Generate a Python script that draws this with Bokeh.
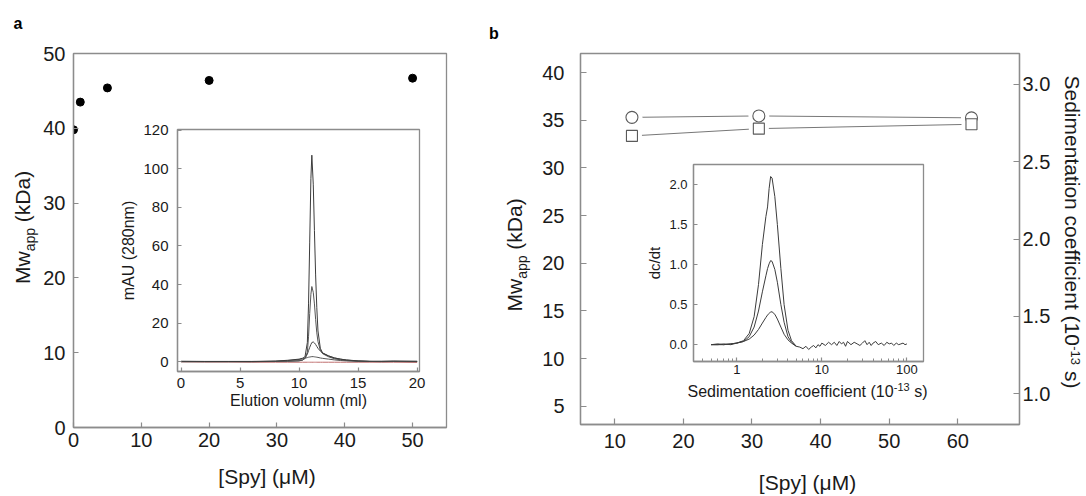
import math
from bokeh.plotting import figure
from bokeh.models import Range1d, LinearAxis, Label, FixedTicker, NumeralTickFormatter
from bokeh.layouts import row, column
from bokeh.embed import file_html
from bokeh.resources import INLINE

# ---------------- data ----------------
spy_a = [0, 1, 5, 20, 50]
mw_a = [39.8, 43.5, 45.4, 46.4, 46.7]

elution_ml = [0.0, 2.0, 4.0, 6.0, 8.0, 9.0, 10.0, 10.3, 10.5, 10.7, 10.8, 10.9, 11.0, 11.08, 11.2,
              11.3, 11.4, 11.5, 11.6, 11.8, 12.0, 12.5, 13.0, 13.5, 14.0, 15.0, 16.0, 17.0, 18.0, 20.0]
mau_107 = [0.3, 0.2, 0.2, 0.2, 0.4, 0.8, 1.4, 1.9, 2.6, 10.0, 30.0, 62.0, 95.0, 107.0, 92.0,
           68.0, 45.0, 28.0, 16.0, 7.0, 4.5, 3.0, 2.0, 1.4, 1.0, 0.5, 0.3, 0.3, 0.4, 0.3]
mau_39 = [0.2, 0.2, 0.2, 0.2, 0.2, 0.3, 0.6, 1.0, 1.8, 5.0, 13.0, 25.0, 35.0, 39.0, 36.0,
          30.0, 22.0, 15.0, 10.5, 6.0, 4.2, 2.6, 1.6, 1.0, 0.7, 0.3, 0.2, 0.2, 0.2, 0.2]
mau_10 = [0.1, 0.1, 0.1, 0.1, 0.2, 0.3, 0.5, 0.9, 1.8, 4.0, 5.8, 7.5, 9.0, 10.0, 10.3,
          9.8, 9.0, 8.0, 7.0, 5.6, 4.6, 3.1, 2.0, 1.4, 0.9, 0.4, 0.2, 0.1, 0.2, 0.1]
mau_3 = [0.1, 0.1, 0.1, 0.1, 0.3, 0.6, 1.2, 1.6, 1.9, 2.2, 2.4, 2.5, 2.6, 2.7, 2.7,
         2.6, 2.5, 2.4, 2.3, 2.0, 1.8, 1.4, 1.0, 0.7, 0.5, 0.3, 0.2, 0.2, 0.3, 0.2]
mau_blank = [0.0, -0.1, -0.1, -0.2, -0.2, -0.2, -0.2, -0.2, -0.2, -0.2, -0.2, -0.2, -0.2, -0.2, -0.2,
             -0.2, -0.2, -0.2, -0.2, -0.2, -0.2, -0.2, -0.2, -0.2, -0.2, -0.2, -0.2, -0.2, -0.2, -0.3]

spy_b = [12.5, 31, 62]
mw_b = [35.3, 35.45, 35.25]
sed_b = [2.667, 2.714, 2.742]

s_peak = [0.5, 0.6, 0.7, 0.85, 1.0, 1.2, 1.4, 1.6, 1.8, 2.0, 2.2, 2.3, 2.4, 2.5, 2.6,
          2.8, 3.0, 3.3, 3.6, 4.0, 4.4, 5.0]
dcdt_high = [0.0, 0.01, 0.0, 0.01, 0.02, 0.05, 0.14, 0.35, 0.75, 1.25, 1.6, 1.72, 1.95, 2.1, 2.08,
             1.85, 1.5, 0.95, 0.5, 0.18, 0.05, -0.02]
dcdt_mid = [0.0, 0.0, 0.01, 0.0, 0.02, 0.04, 0.1, 0.22, 0.42, 0.66, 0.86, 0.95, 1.01, 1.05, 1.04,
            0.94, 0.78, 0.5, 0.28, 0.1, 0.03, -0.02]
dcdt_low = [0.0, 0.0, 0.0, 0.01, 0.02, 0.04, 0.07, 0.12, 0.19, 0.27, 0.34, 0.37, 0.39, 0.41, 0.41,
            0.38, 0.32, 0.22, 0.13, 0.06, 0.02, -0.02]
s_tail = [5.0, 5.5, 6.0, 6.5, 7.0, 7.5, 8.0, 8.5, 9.0, 9.5, 10, 11, 12, 13, 14, 15, 16, 17, 18, 19,
          20, 22, 24, 26, 28, 30, 32, 34, 36, 38, 40, 43, 46, 50, 54, 58, 62, 66, 70, 75, 80, 85, 90, 95, 100]
dcdt_tail = [-0.02, -0.03, -0.05, -0.02, -0.06, -0.03, -0.01, -0.04, 0.0, -0.02, 0.02, -0.01, 0.03, 0.0, 0.03,
             -0.01, 0.04, 0.01, 0.03, -0.02, 0.04, 0.0, 0.03, 0.01, -0.01, 0.02, 0.05, 0.0, 0.03, -0.01,
             0.02, 0.04, 0.0, 0.02, -0.01, 0.03, 0.01, 0.02, -0.01, 0.02, 0.0, 0.01, 0.02, 0.0, 0.01]

a_ticks = [0, 10, 20, 30, 40, 50]
ia_x_ticks = [0, 5, 10, 15, 20]
ia_y_ticks = [0, 20, 40, 60, 80, 100, 120]
b_x_ticks = [10, 20, 30, 40, 50, 60]
b_y_ticks = [5, 10, 15, 20, 25, 30, 35, 40]
b_s_ticks = [1.0, 1.5, 2.0, 2.5, 3.0]
ib_x_ticks = [1, 10, 100]
ib_y_ticks = [0.0, 0.5, 1.0, 1.5, 2.0]

# ---------------- styling helpers ----------------
FONT = "Liberation Sans"
GRAY = "#8c8c8c"
TXT = "#1a1a1a"
LINE = "#3c3c3c"
PAGE_W, PAGE_H = 1086, 496
A_W, B_W = 478, 608

W = {' ': 278, '(': 333, ')': 333, '[': 278, ']': 278, '-': 333, '/': 278, '.': 278,
     'a': 556, 'c': 500, 'd': 556, 'e': 556, 'f': 278, 'i': 222, 'k': 500, 'l': 222, 'm': 833,
     'n': 556, 'o': 556, 'p': 556, 's': 500, 't': 278, 'u': 556, 'v': 500, 'w': 722, 'y': 500,
     'A': 667, 'D': 722, 'E': 667, 'M': 833, 'S': 667, 'U': 722}


def text_w(t, size):
    return sum(W.get(ch, 556) for ch in t) * size / 1000.0


def make_fig(width, height, xr, yr, lft, top, rgt, bot, x_axis_type="linear"):
    p = figure(width=width, height=height, x_range=xr, y_range=yr, x_axis_type=x_axis_type,
               output_backend="svg", toolbar_location=None,
               min_border_left=lft, min_border_top=top, min_border_right=rgt, min_border_bottom=bot)
    p.xgrid.grid_line_color = None
    p.ygrid.grid_line_color = None
    p.outline_line_color = GRAY
    p.outline_line_width = 1.3
    return p


def inset_fig(col_x, col_w, frame, xr, yr, bot, x_axis_type="linear"):
    # inset spans the full column width; its frame is placed with the borders
    fl, ft, fr, fb = frame
    top_pad = 14
    height = (fb - ft) + top_pad + bot
    p = make_fig(col_w, height, xr, yr, fl - col_x, top_pad, col_w - (fr - col_x), bot, x_axis_type)
    p.border_fill_alpha = 0
    y0 = ft - top_pad
    wrap = row(p)  # own container, so the column does not align it with the main plot
    wrap.margin = (y0 - PAGE_H, 0, PAGE_H - y0 - height, 0)
    return p, wrap


def style_axis(ax, size, standoff, tick_in):
    ax.major_label_text_font = FONT
    ax.major_label_text_font_size = f"{size}px"
    ax.major_label_text_color = TXT
    ax.major_label_standoff = standoff
    ax.major_tick_in = tick_in
    ax.major_tick_out = 0
    ax.minor_tick_line_color = None
    ax.axis_line_color = GRAY
    ax.axis_line_width = 1.3
    ax.major_tick_line_color = GRAY
    ax.major_tick_line_width = 1.2
    ax.axis_label_text_font = FONT
    ax.axis_label_text_font_style = "normal"
    ax.axis_label_text_color = TXT


# overlay figure for free texts: its data coordinates equal page pixels
ov = figure(width=PAGE_W, height=PAGE_H, x_range=Range1d(0, PAGE_W), y_range=Range1d(PAGE_H, 0),
            output_backend="svg", toolbar_location=None, x_axis_location=None, y_axis_location=None,
            min_border=0, min_border_left=0, min_border_right=0, min_border_top=0, min_border_bottom=0)
ov.grid.visible = False
ov.outline_line_color = None
ov.background_fill_alpha = 0
ov.border_fill_alpha = 0

BASE_FIX = 0.33  # Bokeh draws "alphabetic" labels about a third of the size below the anchor


def up_vec(angle):
    if angle == 0:
        return (0, -1)
    return (-1, 0) if angle > 0 else (1, 0)


def add_label(sx, sy, text, size, angle=0.0, align="left", bold=False, color=TXT):
    ux, uy = up_vec(angle)
    sx += ux * BASE_FIX * size
    sy += uy * BASE_FIX * size
    ov.add_layout(Label(x=sx, y=sy, text=text, text_font=FONT, text_font_size=f"{size}px",
                        text_align=align, text_baseline="alphabetic", angle=angle,
                        text_font_style="bold" if bold else "normal", text_color=color))


def rich_label(sx, sy, pieces, angle):
    if angle == 0:
        adv = (1, 0)
    elif angle > 0:
        adv = (0, -1)
    else:
        adv = (0, 1)
    up = up_vec(angle)
    pos = 0.0
    for t, size, shift in pieces:
        stripped = t.lstrip(' ')
        pos += text_w(t[:len(t) - len(stripped)], size)
        x = sx + adv[0] * pos + up[0] * shift
        y = sy + adv[1] * pos + up[1] * shift
        add_label(x, y, stripped, size, angle=angle)
        pos += text_w(stripped, size)


# ---------------- panel a: main ----------------
pa = make_fig(A_W, PAGE_H, Range1d(0, 55), Range1d(0, 50), 73, 53, 32, 69)
pa.xaxis.ticker = FixedTicker(ticks=a_ticks)
pa.yaxis.ticker = FixedTicker(ticks=a_ticks)
style_axis(pa.xaxis[0], 20, 5, 5)
style_axis(pa.yaxis[0], 20, 8, 5)
pa.scatter(spy_a, mw_a, size=8, marker="circle", fill_color="black", line_color="black")

# ---------------- panel a: inset ----------------
ia, wrap_a = inset_fig(0, A_W, (177, 129, 419, 371), Range1d(-0.3, 20.2), Range1d(-5, 120.3), 54)
ia.xaxis.ticker = FixedTicker(ticks=ia_x_ticks)
ia.yaxis.ticker = FixedTicker(ticks=ia_y_ticks)
style_axis(ia.xaxis[0], 15, 6, 4)
style_axis(ia.yaxis[0], 15, 9, 4)
ia.xaxis.axis_label = "Elution volumn (ml)"
ia.yaxis.axis_label = "mAU (280nm)"
ia.xaxis.axis_label_text_font_size = "16px"
ia.yaxis.axis_label_text_font_size = "16px"
ia.xaxis.axis_label_standoff = 1
ia.yaxis.axis_label_standoff = 3
ia.line(elution_ml, mau_blank, line_color="#c07070", line_width=1)
for ys, col in [(mau_3, "#555555"), (mau_10, "#444444"), (mau_39, "#555555"), (mau_107, LINE)]:
    ia.line(elution_ml, ys, line_color=col, line_width=1)

# ---------------- panel b: main ----------------
pb = make_fig(B_W, PAGE_H, Range1d(5, 69), Range1d(3.08, 42.0), 102, 53, 67, 72)
pb.extra_y_ranges = {"s": Range1d(0.80, 3.20)}
pb.xaxis.ticker = FixedTicker(ticks=b_x_ticks)
pb.yaxis.ticker = FixedTicker(ticks=b_y_ticks)
style_axis(pb.xaxis[0], 20, 9, 6)
style_axis(pb.yaxis[0], 20, 16, 6)
rax = LinearAxis(y_range_name="s", ticker=FixedTicker(ticks=b_s_ticks),
                 formatter=NumeralTickFormatter(format="0.0"))
style_axis(rax, 20, 3, 6)
pb.add_layout(rax, "right")

pb.line(spy_b, mw_b, line_color="#777777", line_width=1)
pb.line(spy_b, sed_b, y_range_name="s", line_color="#777777", line_width=1)
pb.scatter(spy_b, mw_b, size=21, marker="circle", fill_color="white", line_color=None)
pb.scatter(spy_b, sed_b, y_range_name="s", size=20, marker="square", fill_color="white", line_color=None)
pb.scatter(spy_b, mw_b, size=12, marker="circle", fill_color="white", line_color="#5a5a5a", line_width=1.1)
pb.scatter(spy_b, sed_b, y_range_name="s", size=11, marker="square", fill_color="white",
           line_color="#5a5a5a", line_width=1.1)

# ---------------- panel b: inset ----------------
ib, wrap_b = inset_fig(A_W, B_W, (693, 164, 923, 361), Range1d(0.31, 156.6), Range1d(-0.21, 2.25), 49,
                       x_axis_type="log")
minor = [m * 10 ** e for e in (-1, 0, 1, 2) for m in range(2, 10)]
ib.xaxis.ticker = FixedTicker(ticks=ib_x_ticks, minor_ticks=minor)
ib.xaxis.formatter = NumeralTickFormatter(format="0")
ib.yaxis.ticker = FixedTicker(ticks=ib_y_ticks)
ib.yaxis.formatter = NumeralTickFormatter(format="0.0")
style_axis(ib.xaxis[0], 13, 3, 4)
style_axis(ib.yaxis[0], 13, 6, 4)
ib.xaxis.minor_tick_line_color = GRAY
ib.xaxis.minor_tick_in = 3
ib.xaxis.minor_tick_out = 0
ib.yaxis.axis_label = "dc/dt"
ib.yaxis.axis_label_text_font_size = "15px"
ib.yaxis.axis_label_standoff = 3
for ys in (dcdt_low, dcdt_mid, dcdt_high):
    ib.line(s_peak, ys, line_color=LINE, line_width=1)
ib.line(s_tail, dcdt_tail, line_color=LINE, line_width=1)

# ---------------- free texts (page pixel positions of baselines) ----------------
add_label(13, 28, "a", 16, bold=True, color="black")
add_label(266.5, 483, "[Spy] (μM)", 21, align="center")
rich_label(28.5, 283.5, [("Mw", 21, 0), ("app", 14, -5.5), (" (kDa)", 21, 0)], math.pi / 2)

add_label(488.5, 38, "b", 16, bold=True, color="black")
add_label(807, 489, "[Spy] (μM)", 21, align="center")
rich_label(520.5, 311, [("Mw", 21, 0), ("app", 14, -5.5), (" (kDa)", 21, 0)], math.pi / 2)
rich_label(1065, 75, [("Sedimentation coefficient (10", 21, 0), ("-13", 13, 6), (" s)", 21, 0)], -math.pi / 2)
rich_label(687, 396, [("Sedimentation coefficient (10", 16, 0), ("-13", 11, 6), (" s)", 16, 0)], 0)

ov.margin = (-PAGE_H, 0, 0, 0)

layout = column(row(column(pa, wrap_a), column(pb, wrap_b)), ov)
open("out.html", "w").write(file_html(layout, INLINE))
